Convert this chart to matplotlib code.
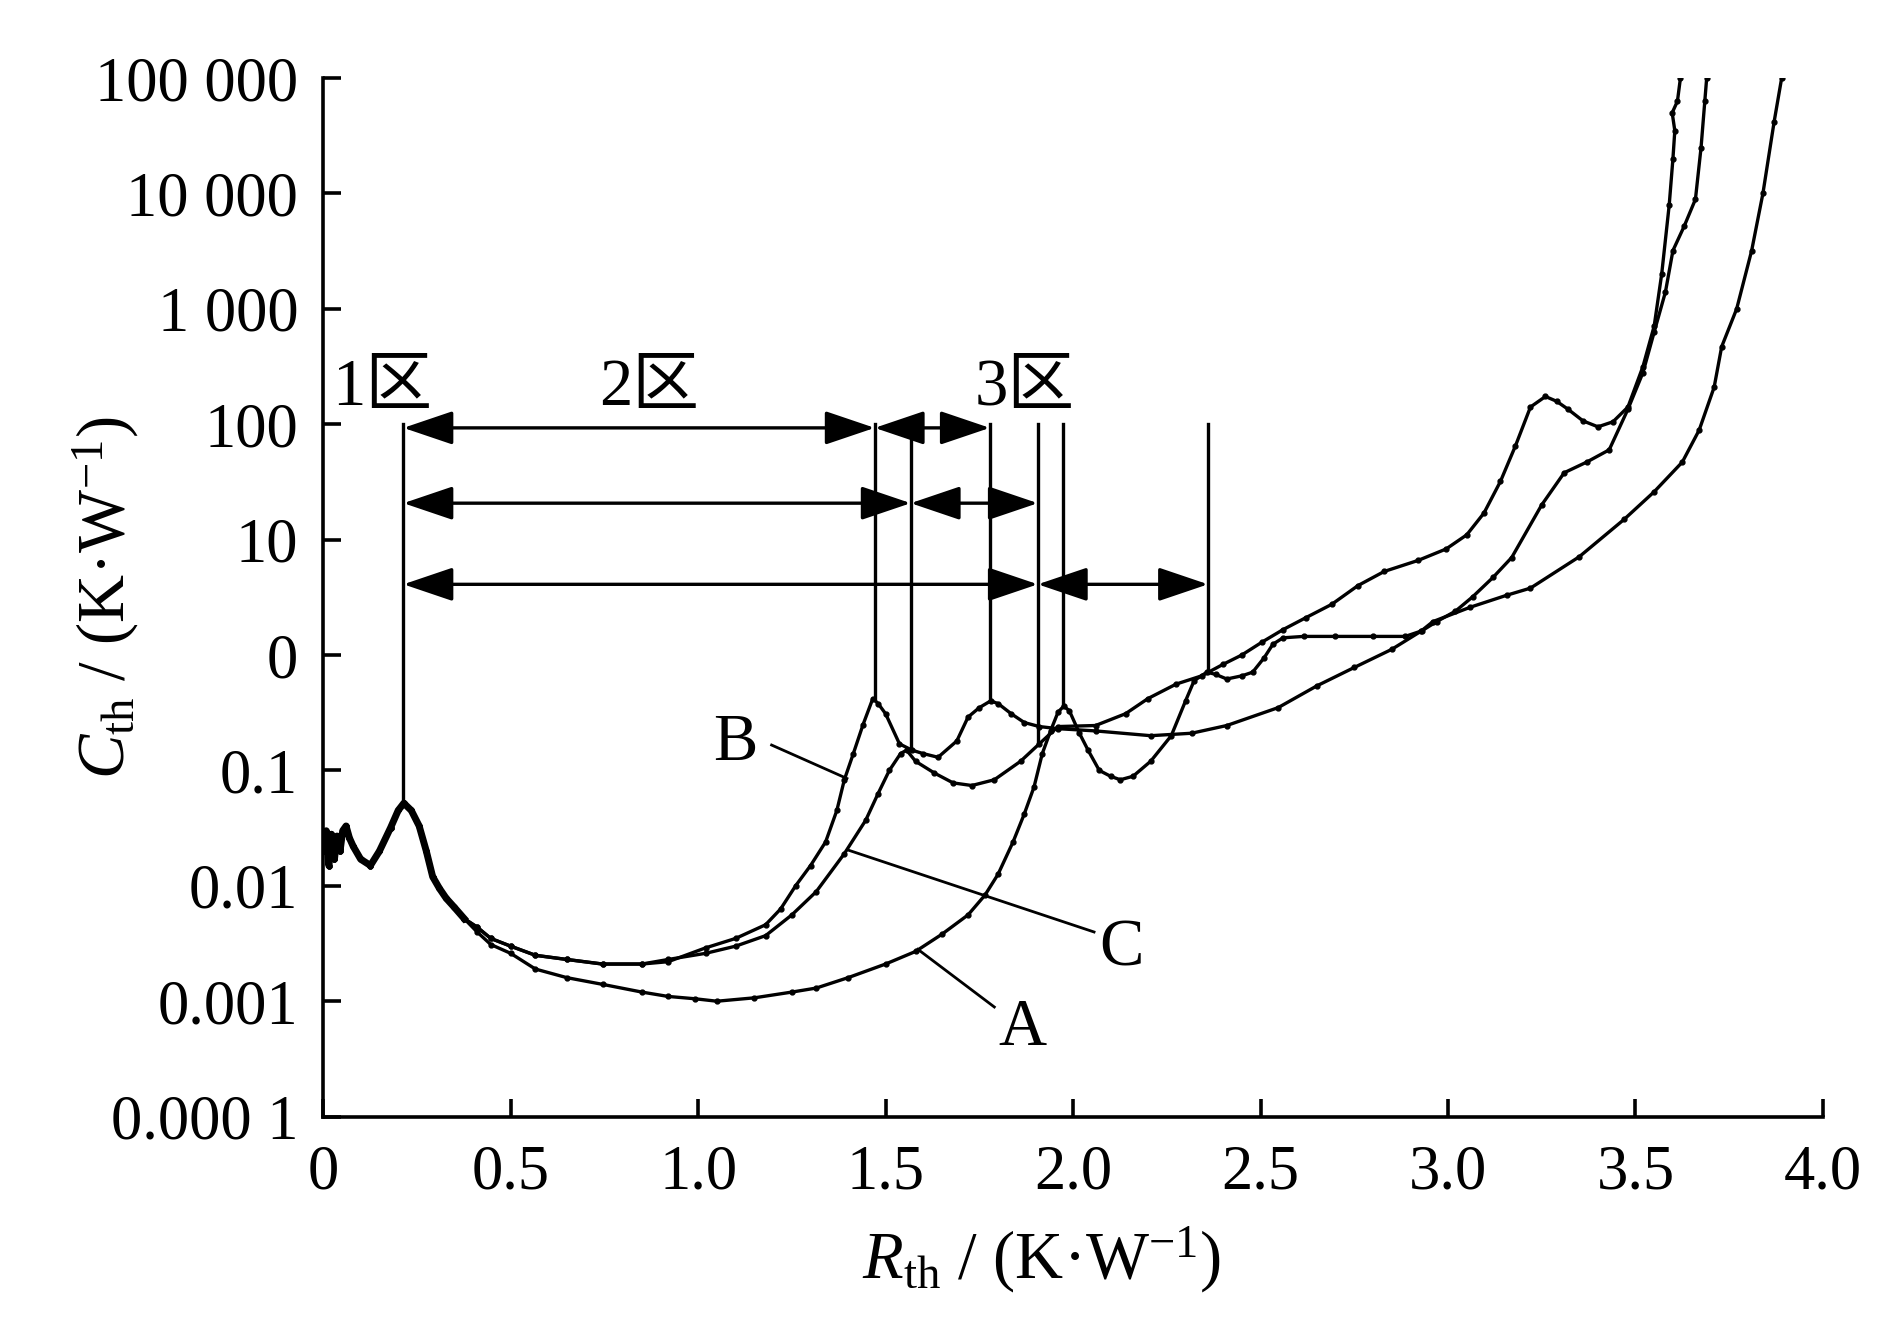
import numpy as np
import matplotlib
matplotlib.use('Agg')
from matplotlib import pyplot as plt

plt.rcParams['font.family'] = ['Liberation Serif', 'Noto Sans CJK SC']
plt.rcParams['mathtext.fontset'] = 'custom'
plt.rcParams['mathtext.rm'] = 'Liberation Serif'
plt.rcParams['mathtext.it'] = 'Liberation Serif:italic'

# shared start of all three curves (Rth, Cth)
rth_head = [0.0, 0.008, 0.015, 0.022, 0.03, 0.037, 0.045, 0.052, 0.061, 0.07, 0.08, 0.1, 0.126, 0.15,
            0.18, 0.2, 0.215, 0.235, 0.256, 0.275, 0.292, 0.31, 0.328, 0.35, 0.376]
cth_head = [0.02, 0.03, 0.015, 0.028, 0.017, 0.027, 0.02, 0.03, 0.033, 0.026, 0.022, 0.017, 0.015, 0.02,
            0.032, 0.045, 0.052, 0.045, 0.033, 0.02, 0.012, 0.0095, 0.0078, 0.0065, 0.0052]

# curve A
rth_a = [0.41, 0.447, 0.5, 0.566, 0.65, 0.745, 0.85, 0.92, 0.992, 1.05, 1.15, 1.25, 1.315, 1.4, 1.5,
         1.58, 1.65, 1.72, 1.765, 1.8, 1.84, 1.87, 1.896, 1.918, 1.94, 1.96, 1.975, 1.99, 2.017, 2.04,
         2.07, 2.1, 2.126, 2.16, 2.207, 2.262, 2.3, 2.323, 2.357, 2.38, 2.41, 2.45, 2.479, 2.51, 2.533,
         2.56, 2.615, 2.7, 2.8, 2.886, 2.93, 2.97, 3.02, 3.066, 3.12, 3.17, 3.25, 3.31, 3.37, 3.43,
         3.48, 3.52, 3.55, 3.58, 3.6, 3.63, 3.66, 3.675, 3.685, 3.69]
cth_a = [0.004, 0.0031, 0.0026, 0.0019, 0.0016, 0.0014, 0.0012, 0.0011, 0.00105, 0.001, 0.00107,
         0.0012, 0.0013, 0.0016, 0.0021, 0.0027, 0.0038, 0.0056, 0.0083, 0.0126, 0.024, 0.042, 0.072,
         0.14, 0.22, 0.32, 0.36, 0.33, 0.21, 0.15, 0.1, 0.089, 0.083, 0.089, 0.12, 0.2, 0.4, 0.6,
         0.71, 0.68, 0.62, 0.66, 0.71, 0.95, 1.24, 1.41, 1.45, 1.45, 1.45, 1.45, 1.62, 1.95, 2.4, 3.2,
         4.7, 7.0, 20, 38, 47, 60, 135, 280, 630, 1400, 3200, 5200, 8900, 25000, 63000, 100000]

# curve B
rth_b = [0.41, 0.447, 0.5, 0.566, 0.65, 0.745, 0.85, 0.92, 1.02, 1.1, 1.18, 1.22, 1.26, 1.3, 1.34,
         1.37, 1.39, 1.414, 1.44, 1.466, 1.48, 1.5, 1.537, 1.57, 1.6, 1.64, 1.69, 1.72, 1.75, 1.78,
         1.8, 1.835, 1.87, 1.91, 1.96, 2.06, 2.207, 2.316, 2.41, 2.547, 2.65, 2.75, 2.85, 2.927,
         2.96, 3.06, 3.157, 3.22, 3.35, 3.47, 3.55, 3.625, 3.67, 3.71, 3.73, 3.77, 3.81, 3.84, 3.87,
         3.89]
cth_b = [0.0044, 0.0035, 0.003, 0.0025, 0.0023, 0.0021, 0.0021, 0.0022, 0.0029, 0.0035, 0.0046,
         0.0063, 0.01, 0.015, 0.024, 0.045, 0.083, 0.14, 0.25, 0.42, 0.38, 0.31, 0.17, 0.15, 0.14,
         0.13, 0.18, 0.29, 0.35, 0.4, 0.38, 0.31, 0.26, 0.24, 0.23, 0.22, 0.2, 0.21, 0.245, 0.35,
         0.54, 0.78, 1.12, 1.6, 1.95, 2.6, 3.3, 3.8, 7.1, 15, 26, 47, 89, 210, 470, 1000, 3200,
         10000, 42000, 100000]

# curve C
rth_c = [0.41, 0.447, 0.5, 0.566, 0.65, 0.745, 0.85, 0.92, 1.02, 1.1, 1.18, 1.25, 1.315, 1.39, 1.447,
         1.48, 1.51, 1.54, 1.556, 1.58, 1.63, 1.68, 1.73, 1.79, 1.86, 1.91, 1.96, 2.06, 2.14, 2.2,
         2.275, 2.343, 2.4, 2.45, 2.505, 2.56, 2.62, 2.69, 2.76, 2.83, 2.92, 2.995, 3.05, 3.096,
         3.14, 3.18, 3.22, 3.26, 3.29, 3.32, 3.36, 3.4, 3.44, 3.48, 3.52, 3.55, 3.57, 3.59, 3.6,
         3.605, 3.598, 3.612, 3.62]
cth_c = [0.0044, 0.0035, 0.003, 0.0025, 0.0023, 0.0021, 0.0021, 0.0023, 0.0026, 0.003, 0.0037,
         0.0056, 0.0089, 0.019, 0.037, 0.063, 0.1, 0.14, 0.15, 0.12, 0.095, 0.078, 0.074, 0.083,
         0.12, 0.17, 0.24, 0.245, 0.31, 0.42, 0.56, 0.66, 0.83, 1.0, 1.3, 1.66, 2.1, 2.75, 4.0, 5.3,
         6.6, 8.3, 11, 17, 32, 65, 141, 174, 158, 135, 107, 95, 105, 141, 316, 710, 2000, 7900,
         20000, 35000, 50000, 63000, 100000]

# region markers
boundary_r = [0.214, 1.471, 1.567, 1.778, 1.906, 1.972, 2.36]
boundary_low = [0.052, 0.42, 0.15, 0.40, 0.17, 0.36, 0.70]
arrow_y = [93, 20.7, 4.1]
arrow_spans = [[(0.214, 1.471), (1.471, 1.778)],
               [(0.214, 1.567), (1.567, 1.906)],
               [(0.214, 1.906), (1.906, 2.36)]]
zone_labels = ['1区', '2区', '3区']
zone_r = [0.156, 0.87, 1.87]

ytick_vals = [1e-4, 1e-3, 1e-2, 1e-1, 1, 10, 100, 1e3, 1e4, 1e5]
ytick_text = ['0.000 1', '0.001', '0.01', '0.1', '0', '10', '100', '1 000', '10 000', '100 000']
xtick_vals = [0, 0.5, 1.0, 1.5, 2.0, 2.5, 3.0, 3.5, 4.0]
xtick_text = ['0', '0.5', '1.0', '1.5', '2.0', '2.5', '3.0', '3.5', '4.0']

fig = plt.figure(figsize=(18.9, 13.23), dpi=100)
ax = fig.add_axes([0.171, 0.156, 0.7935, 0.785])

ax.plot(rth_head, cth_head, color='k', lw=5.0)
for rr, cc in [(rth_a, cth_a), (rth_b, cth_b), (rth_c, cth_c)]:
    ax.plot(rth_head + rr, cth_head + cc, color='k', lw=2.4, marker='o', ms=3.5)

ax.set_yscale('log')
ax.set_xlim(0, 4.0)
ax.set_ylim(1e-4, 1e5)

# region boundaries and arrows
for xb, yl in zip(boundary_r, boundary_low):
    ax.plot([xb, xb], [100, yl], color='k', lw=2.4)
for yy, spans in zip(arrow_y, arrow_spans):
    for x1, x2 in spans:
        ax.annotate('', xy=(x2, yy), xytext=(x1, yy),
                    arrowprops=dict(arrowstyle='<|-|>,head_length=31,head_width=10.5',
                                    mutation_scale=1, color='k', lw=2.4,
                                    shrinkA=0, shrinkB=0))
for lab, xr in zip(zone_labels, zone_r):
    ax.text(xr, 10 ** 2.31, lab, fontsize=48, ha='center', va='center')

# curve labels
ax.plot([1.196, 1.397], [10 ** -0.78, 10 ** -1.07], color='k', lw=2.0)
ax.text(1.098, 10 ** -0.77, 'B', fontsize=48, ha='center', va='center')
ax.plot([1.40, 2.056], [10 ** -1.69, 10 ** -2.4], color='k', lw=2.0)
ax.text(2.13, 10 ** -2.55, 'C', fontsize=48, ha='center', va='center')
ax.plot([1.586, 1.79], [10 ** -2.55, 10 ** -3.05], color='k', lw=2.0)
ax.text(1.864, 10 ** -3.24, 'A', fontsize=48, ha='center', va='center')

ax.set_yticks(ytick_vals)
ax.set_yticklabels(ytick_text)
ax.minorticks_off()
ax.set_xticks(xtick_vals)
ax.set_xticklabels(xtick_text)
ax.tick_params(direction='in', length=13, width=2.6, labelsize=45)
ax.tick_params(axis='y', pad=18)
ax.tick_params(axis='x', pad=20)
for s in ['top', 'right']:
    ax.spines[s].set_visible(False)
for s in ['left', 'bottom']:
    ax.spines[s].set_linewidth(2.6)

ax.text(0.479, -0.138, r'$R_{\mathrm{th}}$ / (K·W$^{-1}$)', transform=ax.transAxes,
        fontsize=48, ha='center', va='center')
ax.text(-0.145, 0.50, r'$C_{\mathrm{th}}$ / (K·W$^{-1}$)', transform=ax.transAxes,
        fontsize=48, ha='center', va='center', rotation=90)

fig.savefig('out.png', dpi=100)
